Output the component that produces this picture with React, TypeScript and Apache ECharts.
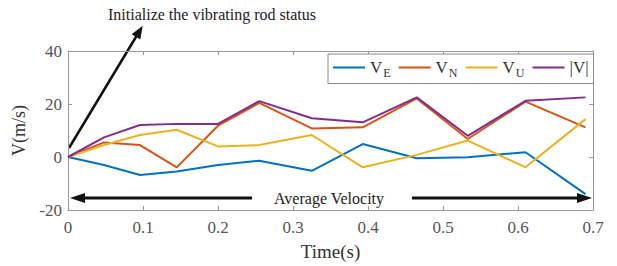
import React, { useEffect, useRef } from "react";
import * as echarts from "echarts";

const times = [0, 0.048, 0.096, 0.145, 0.2, 0.255, 0.325, 0.393, 0.465, 0.533, 0.61, 0.69];
const vE = [0, -3, -6.8, -5.5, -3, -1.4, -5.2, 4.9, -0.5, -0.1, 1.8, -14];
const vN = [0, 5.5, 4.5, -3.9, 11.8, 20.4, 10.8, 11.2, 22.1, 6.8, 20.9, 11.2];
const vU = [0, 4.5, 8.3, 10.3, 4, 4.5, 8.3, -3.9, 0.8, 6.2, -3.9, 14.3];
const vAbs = [0, 7.4, 12.1, 12.5, 12.5, 21.1, 14.6, 13.1, 22.5, 8, 21.2, 22.5];
const seriesNames = ["VE", "VN", "VU", "|V|"];
const colors = ["#0072BD", "#D95319", "#EDB120", "#7E2F8E"];
const xTicks = { min: 0, max: 0.7, interval: 0.1 };
const yTicks = { min: -20, max: 40, interval: 20 };

const FONT = '"Liberation Serif", "Times New Roman", serif';

export default function App() {
  const ref = useRef<HTMLDivElement>(null);
  useEffect(() => {
    const chart = echarts.init(ref.current!, null, { renderer: "svg" });
    const all = [vE, vN, vU, vAbs];
    const axisLine = { show: true, onZero: false, lineStyle: { color: "#999", width: 1 } };
    const axisTick = { show: true, inside: true, length: 4, lineStyle: { color: "#999" } };
    chart.setOption({
      animation: false,
      textStyle: { fontFamily: FONT },
      grid: { left: 68, right: 24, top: 51, bottom: 55 },
      legend: {
        show: true,
        left: 328,
        top: 54,
        width: 270,
        itemWidth: 32,
        itemHeight: 2,
        itemGap: 8,
        padding: [5, 5, 5, 5],
        borderColor: "#888",
        borderWidth: 1,
        backgroundColor: "#fff",
        borderRadius: 0,
        icon: "rect",
        data: seriesNames,
        formatter: (n: string) =>
          n === "|V|" ? "{m|" + n + "}" : "{m|V}{s|" + n.slice(1) + "}",
        textStyle: {
          fontFamily: FONT,
          color: "#333",
          rich: {
            m: { fontFamily: FONT, fontSize: 17, color: "#333" },
            s: { fontFamily: FONT, fontSize: 12, color: "#333", padding: [10, 0, 0, 1] },
          },
        },
      },
      xAxis: [
        {
          type: "value",
          ...xTicks,
          position: "bottom",
          axisLine,
          axisTick,
          splitLine: { show: false },
          axisLabel: { color: "#555", fontFamily: FONT, fontSize: 17, margin: 9 },
          name: "Time(s)",
          nameLocation: "middle",
          nameGap: 32,
          nameTextStyle: { color: "#333", fontFamily: FONT, fontSize: 19 },
        },
        {
          type: "value",
          ...xTicks,
          position: "top",
          axisLine,
          axisTick,
          splitLine: { show: false },
          axisLabel: { show: false },
        },
      ],
      yAxis: [
        {
          type: "value",
          ...yTicks,
          position: "left",
          axisLine,
          axisTick,
          splitLine: { show: false },
          axisLabel: { color: "#555", fontFamily: FONT, fontSize: 17, margin: 6 },
          name: "V(m/s)",
          nameLocation: "middle",
          nameGap: 37,
          nameTextStyle: { color: "#333", fontFamily: FONT, fontSize: 18 },
        },
        {
          type: "value",
          ...yTicks,
          position: "right",
          axisLine,
          axisTick,
          splitLine: { show: false },
          axisLabel: { show: false },
        },
      ],
      series: seriesNames.map((name, i) => ({
        name,
        type: "line",
        data: times.map((t, j) => [t, all[i][j]]),
        showSymbol: false,
        symbol: "none",
        clip: false,
        lineStyle: { color: colors[i], width: 2 },
        itemStyle: { color: colors[i] },
      })),
      graphic: [
        {
          type: "text",
          x: 108,
          y: 14,
          style: {
            text: "Initialize the vibrating rod status",
            font: `16px ${FONT}`,
            fill: "#222",
            verticalAlign: "middle",
          },
        },
        { type: "line", shape: { x1: 69, y1: 148, x2: 136.5, y2: 36 }, style: { stroke: "#111", lineWidth: 2.5 } },
        { type: "polygon", shape: { points: [[142.7, 25.7], [140.3, 39.5], [131.7, 34.3]] }, style: { fill: "#111" } },
        {
          type: "text",
          x: 329,
          y: 198,
          style: {
            text: "Average Velocity",
            font: `16px ${FONT}`,
            fill: "#222",
            align: "center",
            verticalAlign: "middle",
          },
        },
        { type: "line", shape: { x1: 252, y1: 198, x2: 82, y2: 198 }, style: { stroke: "#111", lineWidth: 3 } },
        { type: "polygon", shape: { points: [[70, 198], [85, 193], [85, 203]] }, style: { fill: "#111" } },
        { type: "line", shape: { x1: 412, y1: 198, x2: 580, y2: 198 }, style: { stroke: "#111", lineWidth: 3 } },
        { type: "polygon", shape: { points: [[592, 198], [577, 193], [577, 203]] }, style: { fill: "#111" } },
      ],
    });
    return () => chart.dispose();
  }, []);
  return (
    <div
      ref={ref}
      style={{ position: "absolute", left: 0, top: 0, width: 617, height: 266 }}
    />
  );
}
